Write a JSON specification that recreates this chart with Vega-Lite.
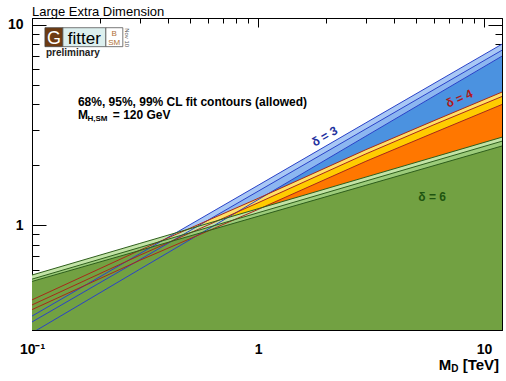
{
  "$schema": "https://vega.github.io/schema/vega-lite/v6.json",
  "width": 470,
  "height": 312,
  "autosize": "none",
  "padding": {"left": 32, "top": 18, "right": 4, "bottom": 51},
  "background": "white",
  "config": {
    "view": {"stroke": "black", "strokeWidth": 1},
    "font": "Liberation Sans",
    "axis": {
      "grid": false,
      "title": null,
      "domainColor": "black",
      "tickColor": "black",
      "tickWidth": 1,
      "labelColor": "black",
      "labelFont": "Liberation Sans",
      "labelFontWeight": "bold",
      "labelFontSize": 14,
      "labelOverlap": false,
      "labelFlush": false,
      "labelBound": false
    }
  },
  "datasets": {
    "contours": [
      {"delta": 3, "cl": 99, "md": 0.1, "y": 0.352},
      {"delta": 3, "cl": 99, "md": 0.3, "y": 0.721},
      {"delta": 3, "cl": 99, "md": 1, "y": 1.58},
      {"delta": 3, "cl": 99, "md": 3, "y": 3.24},
      {"delta": 3, "cl": 99, "md": 12, "y": 8.0},
      {"delta": 3, "cl": 95, "md": 0.1, "y": 0.329},
      {"delta": 3, "cl": 95, "md": 0.3, "y": 0.673},
      {"delta": 3, "cl": 95, "md": 1, "y": 1.476},
      {"delta": 3, "cl": 95, "md": 3, "y": 3.02},
      {"delta": 3, "cl": 95, "md": 12, "y": 7.46},
      {"delta": 3, "cl": 68, "md": 0.1, "y": 0.29},
      {"delta": 3, "cl": 68, "md": 0.3, "y": 0.603},
      {"delta": 3, "cl": 68, "md": 1, "y": 1.34},
      {"delta": 3, "cl": 68, "md": 3, "y": 2.78},
      {"delta": 3, "cl": 68, "md": 12, "y": 6.97},
      {"delta": 4, "cl": 99, "md": 0.1, "y": 0.424},
      {"delta": 4, "cl": 99, "md": 0.3, "y": 0.75},
      {"delta": 4, "cl": 99, "md": 1, "y": 1.36},
      {"delta": 4, "cl": 99, "md": 3, "y": 2.38},
      {"delta": 4, "cl": 99, "md": 6, "y": 3.32},
      {"delta": 4, "cl": 99, "md": 12, "y": 4.613},
      {"delta": 4, "cl": 95, "md": 0.1, "y": 0.4},
      {"delta": 4, "cl": 95, "md": 0.3, "y": 0.708},
      {"delta": 4, "cl": 95, "md": 1, "y": 1.293},
      {"delta": 4, "cl": 95, "md": 3, "y": 2.267},
      {"delta": 4, "cl": 95, "md": 6, "y": 3.17},
      {"delta": 4, "cl": 95, "md": 12, "y": 4.385},
      {"delta": 4, "cl": 68, "md": 0.1, "y": 0.379},
      {"delta": 4, "cl": 68, "md": 0.3, "y": 0.668},
      {"delta": 4, "cl": 68, "md": 1, "y": 1.198},
      {"delta": 4, "cl": 68, "md": 3, "y": 2.083},
      {"delta": 4, "cl": 68, "md": 6, "y": 2.89},
      {"delta": 4, "cl": 68, "md": 12, "y": 4.0},
      {"delta": 6, "cl": 99, "md": 0.1, "y": 0.564},
      {"delta": 6, "cl": 99, "md": 0.3, "y": 0.811},
      {"delta": 6, "cl": 99, "md": 1, "y": 1.208},
      {"delta": 6, "cl": 99, "md": 3, "y": 1.738},
      {"delta": 6, "cl": 99, "md": 12, "y": 2.748},
      {"delta": 6, "cl": 95, "md": 0.1, "y": 0.538},
      {"delta": 6, "cl": 95, "md": 0.3, "y": 0.774},
      {"delta": 6, "cl": 95, "md": 1, "y": 1.153},
      {"delta": 6, "cl": 95, "md": 3, "y": 1.66},
      {"delta": 6, "cl": 95, "md": 12, "y": 2.624},
      {"delta": 6, "cl": 68, "md": 0.1, "y": 0.524},
      {"delta": 6, "cl": 68, "md": 0.3, "y": 0.748},
      {"delta": 6, "cl": 68, "md": 1, "y": 1.107},
      {"delta": 6, "cl": 68, "md": 3, "y": 1.581},
      {"delta": 6, "cl": 68, "md": 12, "y": 2.483}
    ]
  },
  "resolve": {"axis": {"x": "independent", "y": "independent"}},
  "layer": [
    {
      "layer": [
        {
          "data": {"name": "contours"},
          "transform": [{"filter": "datum.delta == 3 && datum.cl == 99"}],
          "mark": {"type": "area", "color": "#a9c8f5", "clip": true},
          "encoding": {
            "x": {
              "field": "md", "type": "quantitative",
              "scale": {"type": "log", "domain": [0.1, 12], "nice": false},
              "axis": {
                "orient": "bottom",
                "values": [0.1, 0.2, 0.3, 0.4, 0.5, 0.6, 0.7, 0.8, 0.9, 1, 2, 3, 4, 5, 6, 7, 8, 9, 10],
                "tickSize": {"expr": "datum.value == 0.1 || datum.value == 1 || datum.value == 10 ? -9 : -5"},
                "labelPadding": 21,
                "labelExpr": "datum.value == 0.1 ? '10⁻¹' : datum.value == 1 ? '1' : datum.value == 10 ? '10' : ''"
              }
            },
            "y": {
              "field": "y", "type": "quantitative",
              "scale": {"type": "log", "domain": [0.3, 10.8], "nice": false},
              "axis": {
                "orient": "left",
                "values": [0.3, 0.4, 0.5, 0.6, 0.7, 0.8, 0.9, 1, 2, 3, 4, 5, 6, 7, 8, 9, 10],
                "tickSize": {"expr": "datum.value == 1 || datum.value == 10 ? -14 : -7"},
                "labelPadding": 23,
                "labelExpr": "datum.value == 1 ? '1' : datum.value == 10 ? '10' : ''"
              }
            },
            "y2": {"datum": 0.25}
          }
        },
        {
          "data": {"name": "contours"},
          "transform": [{"filter": "datum.delta == 3 && datum.cl == 95"}],
          "mark": {"type": "area", "color": "#8cb6f0", "clip": true},
          "encoding": {
            "x": {"field": "md", "type": "quantitative"},
            "y": {"field": "y", "type": "quantitative"},
            "y2": {"datum": 0.25}
          }
        },
        {
          "data": {"name": "contours"},
          "transform": [{"filter": "datum.delta == 3 && datum.cl == 68"}],
          "mark": {"type": "area", "color": "#4b92e0", "clip": true},
          "encoding": {
            "x": {"field": "md", "type": "quantitative"},
            "y": {"field": "y", "type": "quantitative"},
            "y2": {"datum": 0.25}
          }
        },
        {
          "data": {"name": "contours"},
          "transform": [{"filter": "datum.delta == 4 && datum.cl == 99"}],
          "mark": {"type": "area", "color": "#ffe066", "clip": true},
          "encoding": {
            "x": {"field": "md", "type": "quantitative"},
            "y": {"field": "y", "type": "quantitative"},
            "y2": {"datum": 0.25}
          }
        },
        {
          "data": {"name": "contours"},
          "transform": [{"filter": "datum.delta == 4 && datum.cl == 95"}],
          "mark": {"type": "area", "color": "#ffcc00", "clip": true},
          "encoding": {
            "x": {"field": "md", "type": "quantitative"},
            "y": {"field": "y", "type": "quantitative"},
            "y2": {"datum": 0.25}
          }
        },
        {
          "data": {"name": "contours"},
          "transform": [{"filter": "datum.delta == 4 && datum.cl == 68"}],
          "mark": {"type": "area", "color": "#ff7700", "clip": true},
          "encoding": {
            "x": {"field": "md", "type": "quantitative"},
            "y": {"field": "y", "type": "quantitative"},
            "y2": {"datum": 0.25}
          }
        },
        {
          "data": {"name": "contours"},
          "transform": [{"filter": "datum.delta == 6 && datum.cl == 99"}],
          "mark": {"type": "area", "color": "#c2e3a6", "clip": true},
          "encoding": {
            "x": {"field": "md", "type": "quantitative"},
            "y": {"field": "y", "type": "quantitative"},
            "y2": {"datum": 0.25}
          }
        },
        {
          "data": {"name": "contours"},
          "transform": [{"filter": "datum.delta == 6 && datum.cl == 95"}],
          "mark": {"type": "area", "color": "#9ccb7a", "clip": true},
          "encoding": {
            "x": {"field": "md", "type": "quantitative"},
            "y": {"field": "y", "type": "quantitative"},
            "y2": {"datum": 0.25}
          }
        },
        {
          "data": {"name": "contours"},
          "transform": [{"filter": "datum.delta == 6 && datum.cl == 68"}],
          "mark": {"type": "area", "color": "#72a142", "clip": true},
          "encoding": {
            "x": {"field": "md", "type": "quantitative"},
            "y": {"field": "y", "type": "quantitative"},
            "y2": {"datum": 0.25}
          }
        },
        {
          "data": {"name": "contours"},
          "transform": [{"filter": "datum.delta == 3"}],
          "mark": {"type": "line", "color": "#2a42c8", "strokeWidth": 1, "clip": true},
          "encoding": {
            "x": {"field": "md", "type": "quantitative"},
            "y": {"field": "y", "type": "quantitative"},
            "detail": {"field": "cl"}
          }
        },
        {
          "data": {"name": "contours"},
          "transform": [{"filter": "datum.delta == 4"}],
          "mark": {"type": "line", "color": "#a8281a", "strokeWidth": 1, "clip": true},
          "encoding": {
            "x": {"field": "md", "type": "quantitative"},
            "y": {"field": "y", "type": "quantitative"},
            "detail": {"field": "cl"}
          }
        },
        {
          "data": {"name": "contours"},
          "transform": [{"filter": "datum.delta == 6"}],
          "mark": {"type": "line", "color": "#2e5e1c", "strokeWidth": 1, "clip": true},
          "encoding": {
            "x": {"field": "md", "type": "quantitative"},
            "y": {"field": "y", "type": "quantitative"},
            "detail": {"field": "cl"}
          }
        },
        {
          "data": {"values": [{"md": 1.97, "y": 2.77, "label": "δ = 3"}]},
          "mark": {"type": "text", "color": "#1e2f9e", "fontSize": 12, "fontWeight": "bold", "angle": -30, "align": "center", "baseline": "middle"},
          "encoding": {"x": {"field": "md", "type": "quantitative"}, "y": {"field": "y", "type": "quantitative"}, "text": {"field": "label"}}
        },
        {
          "data": {"values": [{"md": 7.77, "y": 4.28, "label": "δ = 4"}]},
          "mark": {"type": "text", "color": "#b01818", "fontSize": 12, "fontWeight": "bold", "angle": -24, "align": "center", "baseline": "middle"},
          "encoding": {"x": {"field": "md", "type": "quantitative"}, "y": {"field": "y", "type": "quantitative"}, "text": {"field": "label"}}
        },
        {
          "data": {"values": [{"md": 5.89, "y": 1.39, "label": "δ = 6"}]},
          "mark": {"type": "text", "color": "#1f5510", "fontSize": 12, "fontWeight": "bold", "align": "center", "baseline": "middle"},
          "encoding": {"x": {"field": "md", "type": "quantitative"}, "y": {"field": "y", "type": "quantitative"}, "text": {"field": "label"}}
        },
        {
          "data": {"values": [{"md": 0.1, "y": 11.09, "label": "Large Extra Dimension"}]},
          "mark": {"type": "text", "color": "black", "fontSize": 13, "align": "left", "baseline": "alphabetic"},
          "encoding": {"x": {"field": "md", "type": "quantitative"}, "y": {"field": "y", "type": "quantitative"}, "text": {"field": "label"}}
        },
        {
          "data": {"values": [{"md": 0.1596, "y": 3.91, "label": "68%, 95%, 99% CL fit contours (allowed)"}]},
          "mark": {"type": "text", "color": "black", "fontSize": 12, "fontWeight": "bold", "align": "left", "baseline": "alphabetic"},
          "encoding": {"x": {"field": "md", "type": "quantitative"}, "y": {"field": "y", "type": "quantitative"}, "text": {"field": "label"}}
        },
        {
          "data": {"values": [{"md": 0.1596, "y": 3.38, "label": "M"}]},
          "mark": {"type": "text", "color": "black", "fontSize": 12, "fontWeight": "bold", "align": "left", "baseline": "alphabetic"},
          "encoding": {"x": {"field": "md", "type": "quantitative"}, "y": {"field": "y", "type": "quantitative"}, "text": {"field": "label"}}
        },
        {
          "data": {"values": [{"md": 0.176, "y": 3.3, "label": "H,SM"}]},
          "mark": {"type": "text", "color": "black", "fontSize": 8, "fontWeight": "bold", "align": "left", "baseline": "alphabetic"},
          "encoding": {"x": {"field": "md", "type": "quantitative"}, "y": {"field": "y", "type": "quantitative"}, "text": {"field": "label"}}
        },
        {
          "data": {"values": [{"md": 0.2278, "y": 3.38, "label": "= 120 GeV"}]},
          "mark": {"type": "text", "color": "black", "fontSize": 12, "fontWeight": "bold", "align": "left", "baseline": "alphabetic"},
          "encoding": {"x": {"field": "md", "type": "quantitative"}, "y": {"field": "y", "type": "quantitative"}, "text": {"field": "label"}}
        },
        {
          "data": {"values": [{"md": 0.1141, "md2": 0.137, "y": 9.66, "y2": 7.77}]},
          "mark": {"type": "rect", "color": "#6e3b12", "stroke": "#444444", "strokeWidth": 0.8},
          "encoding": {"x": {"field": "md", "type": "quantitative"}, "x2": {"field": "md2"}, "y": {"field": "y", "type": "quantitative"}, "y2": {"field": "y2"}}
        },
        {
          "data": {"values": [{"md": 0.137, "md2": 0.2122, "y": 9.66, "y2": 7.77}]},
          "mark": {"type": "rect", "color": "#dcefee", "stroke": "#555555", "strokeWidth": 0.8},
          "encoding": {"x": {"field": "md", "type": "quantitative"}, "x2": {"field": "md2"}, "y": {"field": "y", "type": "quantitative"}, "y2": {"field": "y2"}}
        },
        {
          "data": {"values": [{"md": 0.2122, "md2": 0.2522, "y": 9.66, "y2": 7.77}]},
          "mark": {"type": "rect", "color": "#ffffff", "stroke": "#555555", "strokeWidth": 0.8},
          "encoding": {"x": {"field": "md", "type": "quantitative"}, "x2": {"field": "md2"}, "y": {"field": "y", "type": "quantitative"}, "y2": {"field": "y2"}}
        },
        {
          "data": {"values": [{"md": 0.1251, "y": 8.05, "label": "G"}]},
          "mark": {"type": "text", "color": "white", "fontSize": 18, "align": "center", "baseline": "alphabetic"},
          "encoding": {"x": {"field": "md", "type": "quantitative"}, "y": {"field": "y", "type": "quantitative"}, "text": {"field": "label"}}
        },
        {
          "data": {"values": [{"md": 0.1705, "y": 8.05, "label": "fitter"}]},
          "mark": {"type": "text", "color": "black", "fontSize": 17, "align": "center", "baseline": "alphabetic"},
          "encoding": {"x": {"field": "md", "type": "quantitative"}, "y": {"field": "y", "type": "quantitative"}, "text": {"field": "label"}}
        },
        {
          "data": {"values": [{"md": 0.2312, "y": 8.82, "label": "B"}, {"md": 0.2312, "y": 7.95, "label": "SM"}]},
          "mark": {"type": "text", "color": "#b07236", "fontSize": 8, "align": "center", "baseline": "alphabetic"},
          "encoding": {"x": {"field": "md", "type": "quantitative"}, "y": {"field": "y", "type": "quantitative"}, "text": {"field": "label"}}
        },
        {
          "data": {"values": [{"md": 0.2627, "y": 8.62, "label": "Nov 10"}]},
          "mark": {"type": "text", "color": "#555555", "fontSize": 6, "angle": 90, "align": "center", "baseline": "middle"},
          "encoding": {"x": {"field": "md", "type": "quantitative"}, "y": {"field": "y", "type": "quantitative"}, "text": {"field": "label"}}
        },
        {
          "data": {"values": [{"md": 0.1153, "y": 7.01, "label": "preliminary"}]},
          "mark": {"type": "text", "color": "#222222", "fontSize": 10, "fontWeight": "bold", "align": "left", "baseline": "alphabetic"},
          "encoding": {"x": {"field": "md", "type": "quantitative"}, "y": {"field": "y", "type": "quantitative"}, "text": {"field": "label"}}
        },
        {
          "data": {"values": [{"md": 7.15, "y": 0.19, "label": "M"}]},
          "mark": {"type": "text", "color": "black", "fontSize": 15, "fontWeight": "bold", "align": "right", "baseline": "alphabetic"},
          "encoding": {"x": {"field": "md", "type": "quantitative"}, "y": {"field": "y", "type": "quantitative"}, "text": {"field": "label"}}
        },
        {
          "data": {"values": [{"md": 7.15, "y": 0.186, "label": "D"}]},
          "mark": {"type": "text", "color": "black", "fontSize": 10, "fontWeight": "bold", "align": "left", "baseline": "alphabetic"},
          "encoding": {"x": {"field": "md", "type": "quantitative"}, "y": {"field": "y", "type": "quantitative"}, "text": {"field": "label"}}
        },
        {
          "data": {"values": [{"md": 11.65, "y": 0.19, "label": "[TeV]"}]},
          "mark": {"type": "text", "color": "black", "fontSize": 15, "fontWeight": "bold", "align": "right", "baseline": "alphabetic"},
          "encoding": {"x": {"field": "md", "type": "quantitative"}, "y": {"field": "y", "type": "quantitative"}, "text": {"field": "label"}}
        }
      ]
    },
    {
      "data": {"name": "contours"},
      "mark": {"type": "point", "opacity": 0},
      "encoding": {
        "x": {
          "field": "md", "type": "quantitative",
          "scale": {"type": "log", "domain": [0.1, 12], "nice": false},
          "axis": {
            "orient": "top",
            "values": [0.1, 0.2, 0.3, 0.4, 0.5, 0.6, 0.7, 0.8, 0.9, 1, 2, 3, 4, 5, 6, 7, 8, 9, 10],
            "tickSize": {"expr": "datum.value == 0.1 || datum.value == 1 || datum.value == 10 ? -9 : -5"},
            "labels": false
          }
        },
        "y": {
          "field": "y", "type": "quantitative",
          "scale": {"type": "log", "domain": [0.3, 10.8], "nice": false},
          "axis": {
            "orient": "right",
            "values": [0.3, 0.4, 0.5, 0.6, 0.7, 0.8, 0.9, 1, 2, 3, 4, 5, 6, 7, 8, 9, 10],
            "tickSize": {"expr": "datum.value == 1 || datum.value == 10 ? -14 : -7"},
            "labels": false
          }
        }
      }
    }
  ]
}
